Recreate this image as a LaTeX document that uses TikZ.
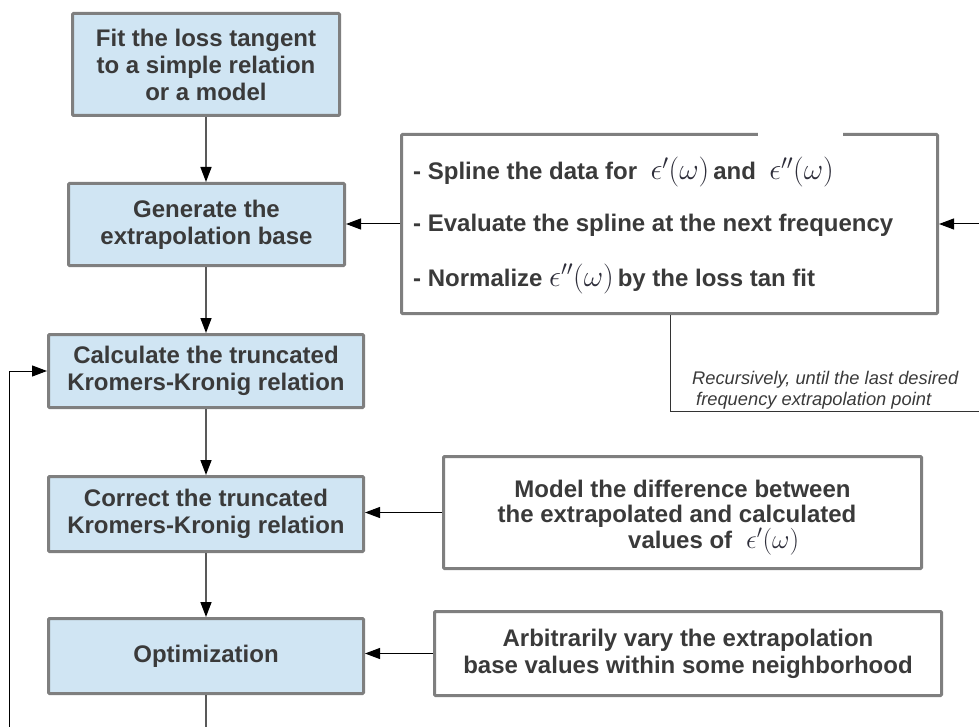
\RequirePackage{fix-cm}
\documentclass[tikz,border=0pt]{standalone}
\usepackage[no-math]{fontspec}
\setmainfont{Liberation Sans}
\usetikzlibrary{arrows.meta}
\definecolor{boxfill}{HTML}{D0E5F3}
\definecolor{boxline}{HTML}{7F7F7F}
\definecolor{txt}{HTML}{3A3A3A}
\definecolor{mathc}{HTML}{2E2E3A}
\newcommand{\bigmath}[1]{{\fontsize{30}{30}\selectfont\color{mathc}$#1$}}
\newcommand{\midmath}[1]{{\fontsize{27}{27}\selectfont\color{mathc}$#1$}}
\begin{document}
\begin{tikzpicture}[x=1pt,y=-1pt,
  bluebox/.style={draw=boxline, line width=3pt, fill=boxfill, rounded corners=1pt,
    inner sep=0pt, align=center, text=txt, font=\fontsize{24}{27}\selectfont\bfseries},
  whitebox/.style={draw=boxline, line width=3pt, fill=white, rounded corners=1pt,
    inner sep=0pt, align=center, text=txt, font=\fontsize{24}{27}\selectfont\bfseries},
  rtext/.style={inner sep=0pt, text=txt, font=\fontsize{24}{27}\selectfont\bfseries},
  itext/.style={inner sep=0pt, text=txt, font=\fontsize{18.3}{21}\selectfont\itshape},
  tipp/.style={-{Triangle[length=15pt,width=11pt,color=black]}},
  vflow/.style={draw=boxline!70!black, line width=1.5pt, tipp},
  hflow/.style={draw=black, line width=1pt, tipp},
  thinline/.style={draw=black!80, line width=1pt},
  vline/.style={draw=boxline!70!black, line width=1.5pt}
]
\useasboundingbox (0,0) rectangle (979,727);

% left column
\node[bluebox, minimum width=267pt, minimum height=102pt] (fit) at (206,64.5)
  {Fit the loss tangent\\to a simple relation\\or a model};
\node[bluebox, minimum width=276pt, minimum height=82pt] (gen) at (206.5,224.5)
  {Generate the\\extrapolation base};
\node[bluebox, minimum width=315pt, minimum height=73pt] (calc) at (206,371)
  {Calculate the truncated\\Kromers-Kronig relation};
\node[bluebox, minimum width=315pt, minimum height=75pt] (corr) at (206,514)
  {Correct the truncated\\Kromers-Kronig relation};
\node[bluebox, minimum width=315pt, minimum height=75pt] (opt) at (206,656)
  {Optimization};

% right boxes
\node[whitebox, minimum width=536pt, minimum height=179pt] (spl) at (669.5,224) {};
\fill[white] (758,130) rectangle (843,136);
\node[rtext, anchor=base west] (s1) at (413,180)
  {- Spline the data for \ \bigmath{\epsilon'(\omega)}\,and\ \ \bigmath{\epsilon''(\omega)}};
\node[rtext, anchor=base west] (s2) at (413,232)
  {- Evaluate the spline at the next frequency};
\node[rtext, anchor=base west] (s3) at (413,286)
  {- Normalize \bigmath{\epsilon''(\omega)}\,by the loss tan fit};

\node[whitebox, minimum width=478pt, minimum height=112pt] (mod) at (682.5,512.5) {};
\node[rtext, anchor=base] (m1) at (682.5,497) {Model the difference between};
\node[rtext, anchor=base] (m2) at (677,522) {the extrapolated and calculated};
\node[rtext, anchor=base west] (m3) at (628,548) {values of\hspace{14pt}\midmath{\epsilon'(\omega)}};

\node[whitebox, minimum width=507pt, minimum height=84pt] (arb) at (688,653.5)
  {Arbitrarily vary the extrapolation\\base values within some neighborhood};

% recursion note
\node[itext, anchor=base west] (r1) at (692,384) {Recursively, until the last desired};
\node[itext, anchor=base west] (r2) at (696,405) {frequency extrapolation point};

% coordinates at the picture edges
\coordinate (rc1) at (670,411);
\coordinate (rc2) at (979,411);
\coordinate (rin) at (979,224);
\coordinate (lb) at (9,727);
\coordinate (ob) at (206,727);

% connectors
\draw[vflow] (fit.south) -- (fit.south |- gen.north);
\draw[vflow] (gen.south -| calc.north) -- (calc.north);
\draw[vflow] (calc.south) -- (corr.north);
\draw[vflow] (corr.south) -- (opt.north);
\draw[vline] (opt.south) -- (ob);

\draw[hflow] (spl.west) -- (spl.west -| gen.east);
\draw[hflow] (rin) -- (spl.east);
\draw[hflow] (mod.west) -- (mod.west -| corr.east);
\draw[hflow] (arb.west) -- (arb.west -| opt.east);
\draw[hflow] (lb) |- (calc.west);
\draw[thinline] (spl.south -| rc1) -- (rc1) -- (rc2);
\end{tikzpicture}
\end{document}
